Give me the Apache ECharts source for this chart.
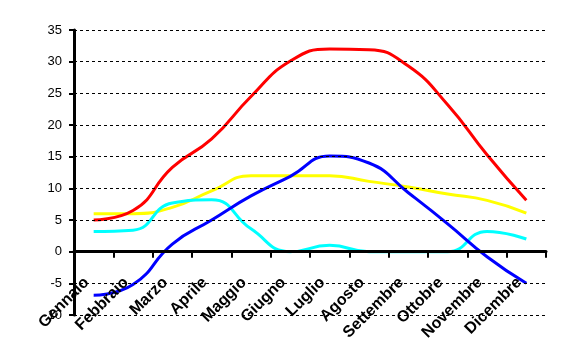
<!DOCTYPE html>
<html>
<head>
<meta charset="utf-8">
<script src="https://cdn.jsdelivr.net/npm/echarts@6/dist/echarts.min.js"></script>
<style>
  html, body { margin: 0; padding: 0; background: #fff; }
  #chart { width: 563px; height: 362px; }
</style>
</head>
<body>
<div id="chart"></div>
<script>
// monthly values
var months = ['Gennaio', 'Febbraio', 'Marzo', 'Aprile', 'Maggio', 'Giugno',
    'Luglio', 'Agosto', 'Settembre', 'Ottobre', 'Novembre', 'Dicembre'];
var redValues = [5, 6.5, 13.3, 17.8, 24.5, 30.1, 32, 31.9, 29.3, 23.2, 15.3, 8.1];
var yellowValues = [6, 6, 7, 9.6, 12, 12, 12, 11.1, 10.2, 9.1, 8.1, 6.1];
var cyanValues = [3.2, 3.4, 7.7, 8.2, 3.6, 0, 1, 0, 0, 0, 3.2, 2];
var blueValues = [-6.9, -5.2, 1.2, 5, 8.8, 11.9, 15.1, 14, 9.3, 4.4, -0.8, -5];

var chart = echarts.init(document.getElementById('chart'));

function makeLine(data, color) {
    return {
        type: 'line',
        data: data,
        smooth: 0.5,
        showSymbol: false,
        silent: true,
        z: 2,
        lineStyle: {
            color: color,
            width: 3
        }
    };
}

let option = {
    backgroundColor: '#ffffff',
    animation: false,
    textStyle: {
        fontFamily: 'Liberation Sans, Arial, sans-serif'
    },
    grid: {
        left: 74,
        right: 17,
        top: 30,
        bottom: 47,
        containLabel: false,
        outerBoundsMode: 'none'
    },
    xAxis: {
        type: 'category',
        data: months,
        boundaryGap: true,
        z: 5,
        axisLine: {
            show: true,
            onZero: true,
            lineStyle: { color: '#000000', width: 3 }
        },
        axisTick: {
            show: true,
            length: 6,
            lineStyle: { color: '#000000', width: 2 }
        },
        // labels stay at the grid bottom in v6, so pull them up under the zero line
        axisLabel: {
            interval: 0,
            rotate: 45,
            margin: -42,
            padding: [0, 10, 0, 0],
            color: '#000000',
            fontSize: 16,
            fontWeight: 'bold'
        },
        splitLine: { show: false }
    },
    yAxis: {
        type: 'value',
        min: -10,
        max: 35,
        interval: 5,
        z: 5,
        axisLine: {
            show: true,
            lineStyle: { color: '#000000', width: 3 }
        },
        axisTick: {
            show: true,
            length: 5,
            lineStyle: { color: '#000000', width: 2 }
        },
        axisLabel: {
            margin: 12,
            color: '#000000',
            fontSize: 13
        },
        splitLine: {
            show: true,
            lineStyle: { color: '#000000', width: 1, type: [3, 3] }
        }
    },
    series: [
        makeLine(yellowValues, '#ffff00'),
        makeLine(redValues, '#ff0000'),
        makeLine(cyanValues, '#00ffff'),
        makeLine(blueValues, '#0000ff')
    ]
};

chart.setOption(option);
</script>
</body>
</html>
